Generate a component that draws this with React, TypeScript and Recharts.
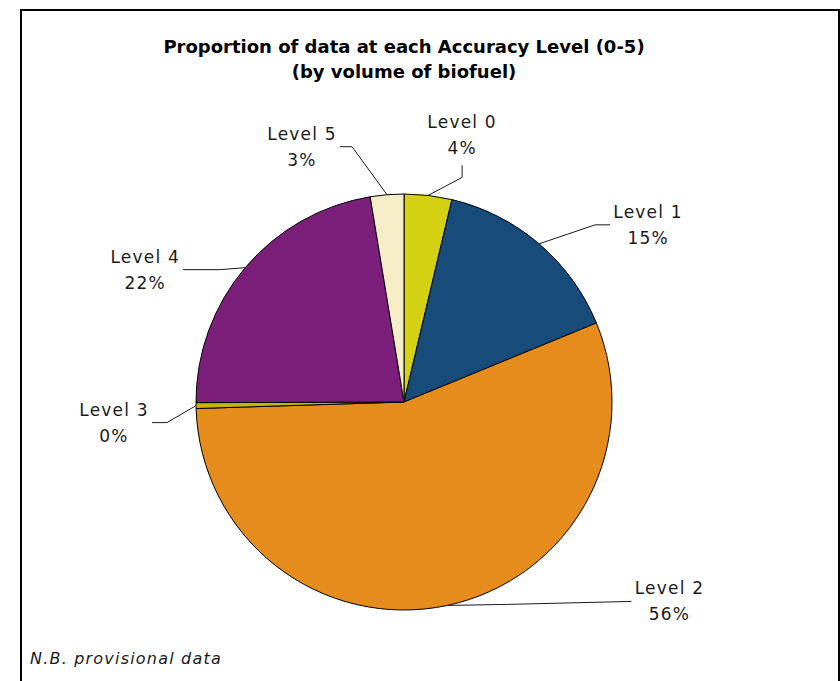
import React from "react";
import { PieChart, Pie, Cell } from "recharts";

const categories = ["Level 0", "Level 1", "Level 2", "Level 3", "Level 4", "Level 5"];
const shares = [3.7, 15.1, 55.7, 0.45, 22.45, 2.6];
const colors = ["#d4d012", "#174b7a", "#e68c1c", "#c8b400", "#7b1f7b", "#f5ecc8"];

const titleLines = ["Proportion of data at each Accuracy Level (0-5)", "(by volume of biofuel)"];
const footnote = "N.B. provisional data";

const data = categories.map((name, i) => ({ name, value: shares[i] }));

// label leader layout: elbow & end offsets relative to arc point, text side
const labelLayout = [
  { elbow: [34, -18], end: [34, -30], mode: "above" },
  { elbow: [56, -19], end: [71, -19], mode: "right" },
  { elbow: [60, -1], end: [184, -4], mode: "right" },
  { elbow: [-29, 17], end: [-44, 17], mode: "left" },
  { elbow: [-25, 2], end: [-62, 2], mode: "left" },
  { elbow: [-35, -48], end: [-47, -48], mode: "left" },
];

const RAD = Math.PI / 180;
const labelFont = { fontFamily: "DejaVu Sans, Verdana, sans-serif", fontSize: 17, letterSpacing: 1.2 };

const renderLabel = (props: any) => {
  const { cx, cy, midAngle, outerRadius, index, percent } = props;
  const ax = cx + outerRadius * Math.cos(-midAngle * RAD);
  const ay = cy + outerRadius * Math.sin(-midAngle * RAD);
  const lay = labelLayout[index];
  const ex = ax + lay.elbow[0];
  const ey = ay + lay.elbow[1];
  const nx = ax + lay.end[0];
  const ny = ay + lay.end[1];
  let tx = nx;
  let b1 = ny - 7;
  if (lay.mode === "above") {
    tx = nx;
    b1 = ny - 37;
  } else if (lay.mode === "left") {
    tx = nx - 38;
  } else {
    tx = nx + 38;
  }
  const pct = Math.round(percent * 100) + "%";
  return (
    <g key={"lbl" + index}>
      <polyline
        points={`${ax},${ay} ${ex},${ey} ${nx},${ny}`}
        fill="none"
        stroke="#1a1a1a"
        strokeWidth={1}
      />
      <text x={tx} y={b1} textAnchor="middle" fill="#1a1a1a" style={labelFont}>
        {categories[index]}
      </text>
      <text x={tx} y={b1 + 26} textAnchor="middle" fill="#1a1a1a" style={labelFont}>
        {pct}
      </text>
    </g>
  );
};

export default function App() {
  return (
    <div style={{ position: "absolute", left: 0, top: 0, width: 840, height: 681, background: "#fff" }}>
      <PieChart width={840} height={681} margin={{ top: 0, right: 0, bottom: 0, left: 0 }}>
        <Pie
          data={data}
          dataKey="value"
          nameKey="name"
          cx={404}
          cy={402}
          outerRadius={208}
          startAngle={90}
          endAngle={-270}
          stroke="#000"
          strokeWidth={1}
          isAnimationActive={false}
          label={renderLabel}
          labelLine={false}
        >
          {data.map((d, i) => (
            <Cell key={d.name} fill={colors[i]} />
          ))}
        </Pie>
      </PieChart>
      <svg
        width={840}
        height={681}
        style={{ position: "absolute", left: 0, top: 0, pointerEvents: "none" }}
      >
        <polyline points="21,681 21,10 839,10 839,681" fill="none" stroke="#000" strokeWidth={2} />
        {titleLines.map((t, i) => (
          <text
            key={t}
            x={404}
            y={53 + i * 25}
            textAnchor="middle"
            fill="#000"
            style={{ fontFamily: "DejaVu Sans, Verdana, sans-serif", fontSize: 18, fontWeight: "bold" }}
          >
            {t}
          </text>
        ))}
        <text
          x={30}
          y={664}
          fill="#1a1a1a"
          style={{ fontFamily: "DejaVu Sans, Verdana, sans-serif", fontSize: 16, fontStyle: "italic", letterSpacing: 1.2 }}
        >
          {footnote}
        </text>
      </svg>
    </div>
  );
}
